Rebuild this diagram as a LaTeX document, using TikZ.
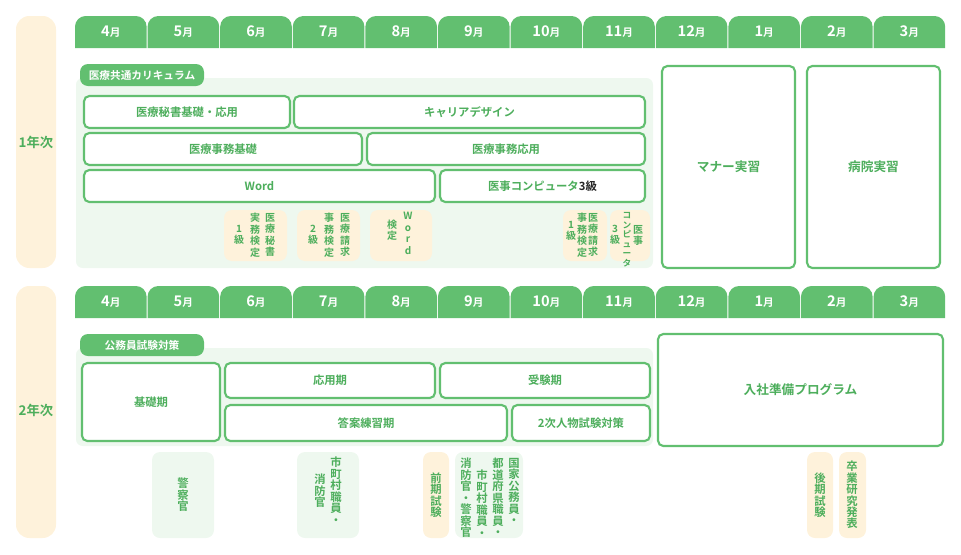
\documentclass[tikz,border=0pt]{standalone}
\usepackage{fontspec}
\setmainfont{Noto Sans CJK JP}[BoldFont={* Bold}]
\definecolor{gr}{HTML}{62BF70}
\definecolor{gt}{HTML}{4DAE5C}
\definecolor{pan}{HTML}{EEF8EF}
\definecolor{crm}{HTML}{FEF2DB}
\tikzset{x=0.75pt,y=-0.75pt,
 wbox/.style={draw=gr,line width=1.6pt,fill=white,rounded corners=4pt},
 bt/.style={text=gt,font=\bfseries\fontsize{8.5}{10}\selectfont},
 vt/.style={text=gt,font=\bfseries\fontsize{7.5}{8.6}\selectfont,align=center,inner sep=0pt},
 vtb/.style={text=gt,font=\bfseries\fontsize{8.5}{8.6}\selectfont,align=center,inner sep=0pt},
 mon/.style={text=white,font=\bfseries\fontsize{11}{12}\selectfont},
}
\begin{document}
\begin{tikzpicture}
\useasboundingbox (0,0) rectangle (961,554);
% year columns
\fill[crm,rounded corners=10pt] (16,16) rectangle (56,268);
\fill[crm,rounded corners=10pt] (16,286) rectangle (56,538);
\node[bt,font=\bfseries\fontsize{10}{12}\selectfont] (y1) at (36,142) {1年次};
\node[bt,font=\bfseries\fontsize{10}{12}\selectfont] (y2) at (36,410) {2年次};
% month tabs
\foreach \m [count=\i from 0] in {4,5,6,7,8,9,10,11,12,1,2,3}{
 \pgfmathsetmacro\a{75+72.6*\i}\pgfmathsetmacro\b{\a+71.6}
 \foreach \t/\r in {16/a,286/b}{
  \fill[gr] (\a,\t+32) [rounded corners=8pt] -- (\a,\t) -- (\b,\t) [sharp corners] -- (\b,\t+32) -- cycle;
  \node[mon] (m\r\i) at ({(\a+\b)/2},\t+16) {\m{\fontsize{8}{9}\selectfont 月}};
 }
}
% year 1 panel
\fill[pan,rounded corners=5pt] (76,78) rectangle (653,268);
\fill[gr,rounded corners=6pt] (80,64) rectangle (204,86);
\node[text=white,font=\bfseries\fontsize{8}{10}\selectfont] (c1) at (142,75) {医療共通カリキュラム};
\draw[wbox] (84,96) rectangle (290,128) node[midway,bt] (b1) {医療秘書基礎・応用};
\draw[wbox] (294,96) rectangle (645,128) node[midway,bt] (b2) {キャリアデザイン};
\draw[wbox] (84,133) rectangle (362,165) node[midway,bt] (b3) {医療事務基礎};
\draw[wbox] (367,133) rectangle (645,165) node[midway,bt] (b4) {医療事務応用};
\draw[wbox] (84,170) rectangle (435,202) node[midway,bt] (b5) {Word};
\draw[wbox] (440,170) rectangle (645,202) node[midway,bt] (b6) {医事コンピュータ\textcolor{black!85}{3級}};
\draw[wbox] (662,66) rectangle (795,268) node[midway,bt,font=\bfseries\fontsize{9.5}{11}\selectfont] (b7) {マナー実習};
\draw[wbox] (807,66) rectangle (940,268) node[midway,bt,font=\bfseries\fontsize{9.5}{11}\selectfont] (b8) {病院実習};
% small cream boxes
\foreach \a/\b in {224/287,297/360,370/432,563/607,610/650}
 \fill[crm,rounded corners=6pt] (\a,210) rectangle (\b,261);
\node[vt,anchor=north] (s1a) at (270,213) {医\\療\\秘\\書};
\node[vt,anchor=north] (s1b) at (255,213) {実\\務\\検\\定};
\node[vt] (s1c) at (239,235) {1\\級};
\node[vt,anchor=north] (s2a) at (345,213) {医\\療\\請\\求};
\node[vt,anchor=north] (s2b) at (329,213) {事\\務\\検\\定};
\node[vt] (s2c) at (313,235) {2\\級};
\node[vt,anchor=north] (s3a) at (408,212) {W\\o\\r\\d};
\node[vt] (s3b) at (392,230) {検\\定};
\node[vt,anchor=north] (s4a) at (593,213) {医\\療\\請\\求};
\node[vt,anchor=north] (s4b) at (582,213) {事\\務\\検\\定};
\node[vt] (s4c) at (571,231) {1\\級};
\node[vt,anchor=north] (s5a) at (638,225) {医\\事};
\node[vt,anchor=north,font=\bfseries\fontsize{6.5}{7.2}\selectfont] (s5b) at (627,212) {コ\\ン\\ピ\\ュ\\ー\\タ};
\node[vt] (s5c) at (615,235) {3\\級};
% year 2 panel
\fill[pan,rounded corners=5pt] (76,348) rectangle (653,446);
\fill[gr,rounded corners=6pt] (80,334) rectangle (204,356);
\node[text=white,font=\bfseries\fontsize{8}{10}\selectfont] (c2) at (142,345) {公務員試験対策};
\draw[wbox] (82,363) rectangle (220,441) node[midway,bt] (d1) {基礎期};
\draw[wbox] (225,363) rectangle (435,398) node[midway,bt] (d2) {応用期};
\draw[wbox] (440,363) rectangle (650,398) node[midway,bt] (d3) {受験期};
\draw[wbox] (225,405) rectangle (507,441) node[midway,bt] (d4) {答案練習期};
\draw[wbox] (512,405) rectangle (650,441) node[midway,bt] (d5) {2次人物試験対策};
\draw[wbox] (658,334) rectangle (943,446) node[midway,bt,font=\bfseries\fontsize{9.5}{11}\selectfont] (d6) {入社準備プログラム};
% bottom boxes
\fill[pan,rounded corners=6pt] (152,452) rectangle (214,538);
\fill[pan,rounded corners=6pt] (297,452) rectangle (359,538);
\fill[crm,rounded corners=6pt] (423,452) rectangle (449,538);
\fill[pan,rounded corners=6pt] (455,452) rectangle (523,538);
\fill[crm,rounded corners=6pt] (807,452) rectangle (833,538);
\fill[crm,rounded corners=6pt] (839,452) rectangle (866,538);
\node[vtb] (e1) at (183,495) {警\\察\\官};
\node[vtb,anchor=north] (e2a) at (336,457) {市\\町\\村\\職\\員\\・};
\node[vtb,anchor=north] (e2b) at (320,474) {消\\防\\官};
\node[vtb] (e3) at (436,495) {前\\期\\試\\験};
\node[vtb,anchor=north] (e4a) at (514,458) {国\\家\\公\\務\\員\\・};
\node[vtb,anchor=north] (e4b) at (498,458) {都\\道\\府\\県\\職\\員\\・};
\node[vtb,anchor=north] (e4c) at (482,470) {市\\町\\村\\職\\員\\・};
\node[vtb,anchor=north] (e4d) at (466,458) {消\\防\\官\\・\\警\\察\\官};
\node[vtb] (e5) at (820,495) {後\\期\\試\\験};
\node[vtb] (e6) at (852,495) {卒\\業\\研\\究\\発\\表};
\end{tikzpicture}
\end{document}
